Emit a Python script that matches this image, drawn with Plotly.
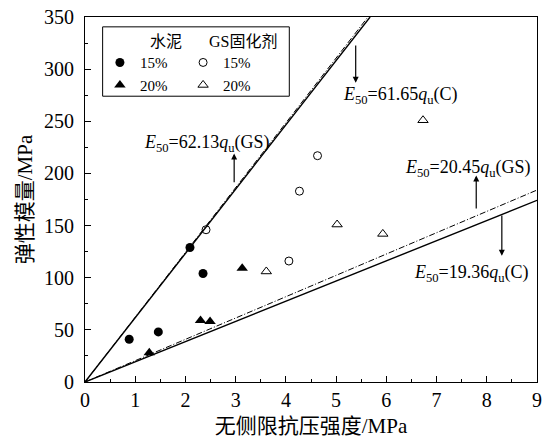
import numpy as np
import plotly.graph_objects as go

# Unconfined compressive strength q_u (MPa) vs secant modulus E50 (MPa)
cement15_q = [0.88, 1.46, 2.09, 2.35]
cement15_E = [41, 48, 129, 104]
cement20_q = [1.28, 2.30, 2.49, 3.13]
cement20_E = [28, 59, 58, 109]
gs15_q = [2.41, 4.06, 4.27, 4.63]
gs15_E = [146, 116, 183, 217]
gs20_q = [3.61, 5.02, 5.93, 6.73]
gs20_E = [106, 151, 142, 251]

# Fitted proportional relations E50 = k * q_u
fit_labels = ["GS", "C", "GS", "C"]
fit_slopes = [62.13, 61.65, 20.45, 19.36]

X_MAX, Y_MAX = 9, 350
SERIF = "Times New Roman, Liberation Serif, serif"
MIXED = "Times New Roman, Liberation Serif, Noto Sans CJK SC, serif"

fig = go.Figure()

# fitted lines: GS dash-dot, cement solid
for lab, k in zip(fit_labels, fit_slopes):
    q_end = min(X_MAX, Y_MAX / k)
    qs = np.array([0.0, q_end])
    if lab == "GS":
        line = dict(color="black", width=1, dash="6px,2px,1px,2px")
    else:
        line = dict(color="black", width=1.4)
    fig.add_trace(go.Scatter(x=qs, y=k * qs, mode="lines", line=line,
                             showlegend=False, hoverinfo="skip"))

# measured points
fig.add_trace(go.Scatter(x=cement15_q, y=cement15_E, mode="markers", name="15%",
                         marker=dict(symbol="circle", size=9, color="black"),
                         legend="legend"))
fig.add_trace(go.Scatter(x=cement20_q, y=cement20_E, mode="markers", name="20%",
                         marker=dict(symbol="triangle-up", size=10, color="black"),
                         legend="legend"))
fig.add_trace(go.Scatter(x=gs15_q, y=gs15_E, mode="markers", name="15%",
                         marker=dict(symbol="circle-open", size=8, color="black",
                                     line=dict(width=1)),
                         legend="legend2"))
fig.add_trace(go.Scatter(x=gs20_q, y=gs20_E, mode="markers", name="20%",
                         marker=dict(symbol="triangle-up-open", size=9, color="black",
                                     line=dict(width=1)),
                         legend="legend2"))

def eq_text(k, lab):
    return f"<i>E</i><sub>50</sub>={k:.2f}<i>q</i><sub>u</sub>({lab})"

# equation labels (text position) and pointer arrows (tail -> head)
eq_pos = [(2.42, 229), (6.28, 275), (7.63, 205), (7.70, 104)]
arrows = [((2.97, 190), (2.97, 219)),
          ((5.39, 324), (5.39, 287)),
          ((7.79, 165), (7.79, 198)),
          ((8.30, 161), (8.30, 121))]

for (lab, k), (tx, ty), (tail, head) in zip(zip(fit_labels, fit_slopes), eq_pos, arrows):
    fig.add_annotation(x=tx, y=ty, text=eq_text(k, lab), showarrow=False,
                       font=dict(family=SERIF, size=18, color="black"),
                       xanchor="center", yanchor="middle")
    fig.add_annotation(x=head[0], y=head[1], ax=tail[0], ay=tail[1],
                       axref="x", ayref="y", xref="x", yref="y", text="",
                       showarrow=True, arrowhead=2, arrowsize=1, arrowwidth=1.2,
                       arrowcolor="black")

# legend frame and column headers
fig.add_shape(type="rect", xref="paper", yref="paper", x0=0.039, x1=0.452,
              y0=0.783, y1=0.973, line=dict(color="black", width=1))
fig.add_annotation(xref="paper", yref="paper", x=0.140, y=0.932, text="水泥",
                   showarrow=False, yanchor="middle",
                   font=dict(family=MIXED, size=16, color="black"))
fig.add_annotation(xref="paper", yref="paper", x=0.350, y=0.932, text="GS固化剂",
                   showarrow=False, yanchor="middle",
                   font=dict(family=MIXED, size=16, color="black"))

legend_common = dict(bgcolor="rgba(0,0,0,0)", borderwidth=0,
                     font=dict(family=SERIF, size=15, color="black"),
                     xanchor="left", yanchor="top", tracegroupgap=0,
                     itemsizing="trace")
fig.update_layout(
    legend=dict(x=0.033, y=0.92, **legend_common),
    legend2=dict(x=0.217, y=0.92, **legend_common),
)

axis_common = dict(
    showline=True, linecolor="black", linewidth=1.2, mirror=True,
    ticks="inside", ticklen=6, tickwidth=1.2, tickcolor="black",
    showgrid=False, zeroline=False,
    tickfont=dict(family=SERIF, size=20, color="black"),
)
fig.update_xaxes(range=[0, X_MAX], dtick=1, tick0=0,
                 minor=dict(ticks="inside", ticklen=3, dtick=0.5, tickcolor="black"),
                 title=dict(text="无侧限抗压强度/MPa", standoff=8,
                            font=dict(family=MIXED, size=21, color="black")),
                 **axis_common)
fig.update_yaxes(range=[0, Y_MAX], dtick=50, tick0=0,
                 minor=dict(ticks="inside", ticklen=3, dtick=25, tickcolor="black"),
                 ticklabelstandoff=6,
                 title=dict(text="弹性模量/MPa", standoff=5,
                            font=dict(family=MIXED, size=21, color="black")),
                 **axis_common)

fig.update_layout(
    width=545, height=444,
    font=dict(family=SERIF, color="black"),
    margin=dict(l=85, r=8, t=17, b=62, autoexpand=False),
    paper_bgcolor="white", plot_bgcolor="white",
    showlegend=True,
)

fig.write_html("out.html")
